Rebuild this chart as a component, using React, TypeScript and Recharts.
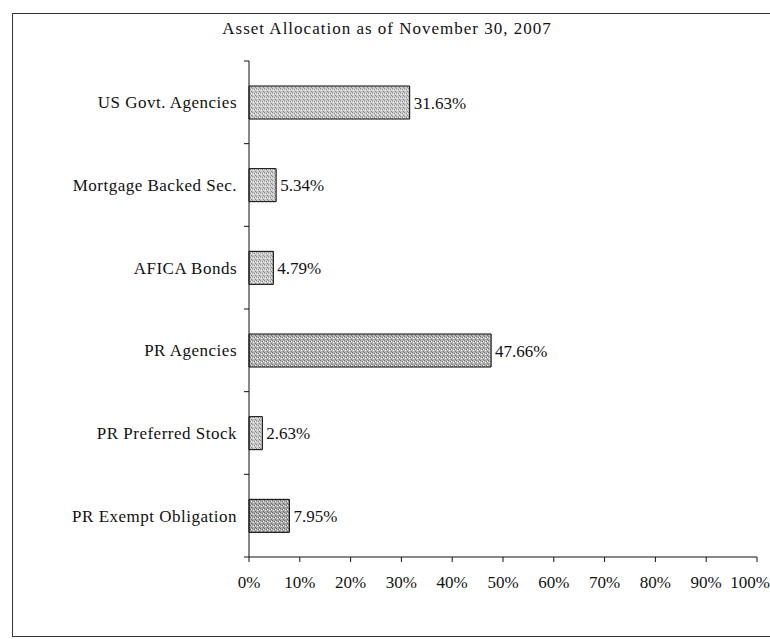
import { BarChart, Bar, XAxis, YAxis, Cell, LabelList } from "recharts";

const categories = [
  "US Govt. Agencies",
  "Mortgage Backed Sec.",
  "AFICA Bonds",
  "PR Agencies",
  "PR Preferred Stock",
  "PR Exempt Obligation",
];
const allocation = [31.63, 5.34, 4.79, 47.66, 2.63, 7.95];
const barShades = ["grainLight", "grainLight", "grainLight", "grainMid", "grainLight", "grainDark"];
const xTicks = [0, 10, 20, 30, 40, 50, 60, 70, 80, 90, 100];

const data = categories.map((name, i) => ({ name, value: allocation[i] }));

const font = "'Liberation Serif', 'Times New Roman', serif";
const ink = "#111";
const labelGap = 12;
const edgeTick = 5;

function Grain({ id, base, dark }: { id: string; base: string; dark: string }) {
  return (
    <pattern id={id} width="4" height="4" patternUnits="userSpaceOnUse">
      <rect width="4" height="4" fill={base} />
      <rect x="0" y="0" width="1" height="1" fill={dark} />
      <rect x="2" y="1" width="1" height="1" fill={dark} />
      <rect x="1" y="2" width="1" height="1" fill="#f0f0f0" />
      <rect x="3" y="3" width="1" height="1" fill={dark} />
      <rect x="3" y="1" width="1" height="1" fill="#eeeeee" />
    </pattern>
  );
}

// category tick: label at band centre, tick marks on the band edges like the Excel original
function CategoryTick(props: any) {
  const { x, y, payload, index } = props;
  const half = payload.offset || 0;
  const axisX = x + labelGap;
  const last = index === categories.length - 1;
  return (
    <g>
      <line x1={axisX - edgeTick} x2={axisX} y1={y - half} y2={y - half} stroke={ink} />
      {last && <line x1={axisX - edgeTick} x2={axisX} y1={y + half} y2={y + half} stroke={ink} />}
      <text
        x={x}
        y={y}
        dy="0.355em"
        textAnchor="end"
        fill={ink}
        fontFamily={font}
        fontSize={17}
        letterSpacing={0.5}
      >
        {payload.value}
      </text>
    </g>
  );
}

export default function App() {
  return (
    <div style={{ position: "fixed", left: 0, top: 0, width: 770, height: 639, overflow: "hidden", background: "#fff" }}>
      <div
        style={{
          position: "absolute",
          left: 12,
          top: 13,
          width: 800,
          height: 624,
          border: "1px solid #333",
          boxSizing: "border-box",
        }}
      />
      <div
        style={{
          position: "absolute",
          left: 0,
          top: 20,
          width: 774,
          textAlign: "center",
          fontFamily: font,
          fontSize: 17,
          lineHeight: "17px",
          letterSpacing: 1,
          color: ink,
        }}
      >
        Asset Allocation as of November 30, 2007
      </div>
      <div style={{ position: "absolute", left: 0, top: 0 }}>
        <BarChart
          width={770}
          height={639}
          data={data}
          layout="vertical"
          margin={{ top: 61, right: 13, bottom: 52, left: 0 }}
          barSize={33}
        >
          <defs>
            <Grain id="grainLight" base="#c8c8c8" dark="#8c8c8c" />
            <Grain id="grainMid" base="#b4b4b4" dark="#7a7a7a" />
            <Grain id="grainDark" base="#a8a8a8" dark="#707070" />
          </defs>
          <XAxis
            type="number"
            domain={[0, 100]}
            ticks={xTicks}
            tickFormatter={(v) => `${v}%`}
            height={30}
            tickSize={5}
            tickMargin={14}
            axisLine={{ stroke: ink }}
            tickLine={{ stroke: ink }}
            tick={{ fill: ink, fontFamily: font, fontSize: 17 }}
          />
          <YAxis
            type="category"
            dataKey="name"
            width={249}
            axisLine={{ stroke: ink }}
            tickLine={false}
            tickSize={0}
            tickMargin={labelGap}
            interval={0}
            tick={<CategoryTick />}
          />
          <Bar dataKey="value" stroke="#000" strokeWidth={1} isAnimationActive={false}>
            {data.map((d, i) => (
              <Cell key={d.name} fill={`url(#${barShades[i]})`} />
            ))}
            <LabelList
              dataKey="value"
              position="right"
              offset={4}
              formatter={(v: any) => `${v}%`}
              style={{ fill: ink, fontFamily: font, fontSize: 17 }}
            />
          </Bar>
        </BarChart>
      </div>
    </div>
  );
}
